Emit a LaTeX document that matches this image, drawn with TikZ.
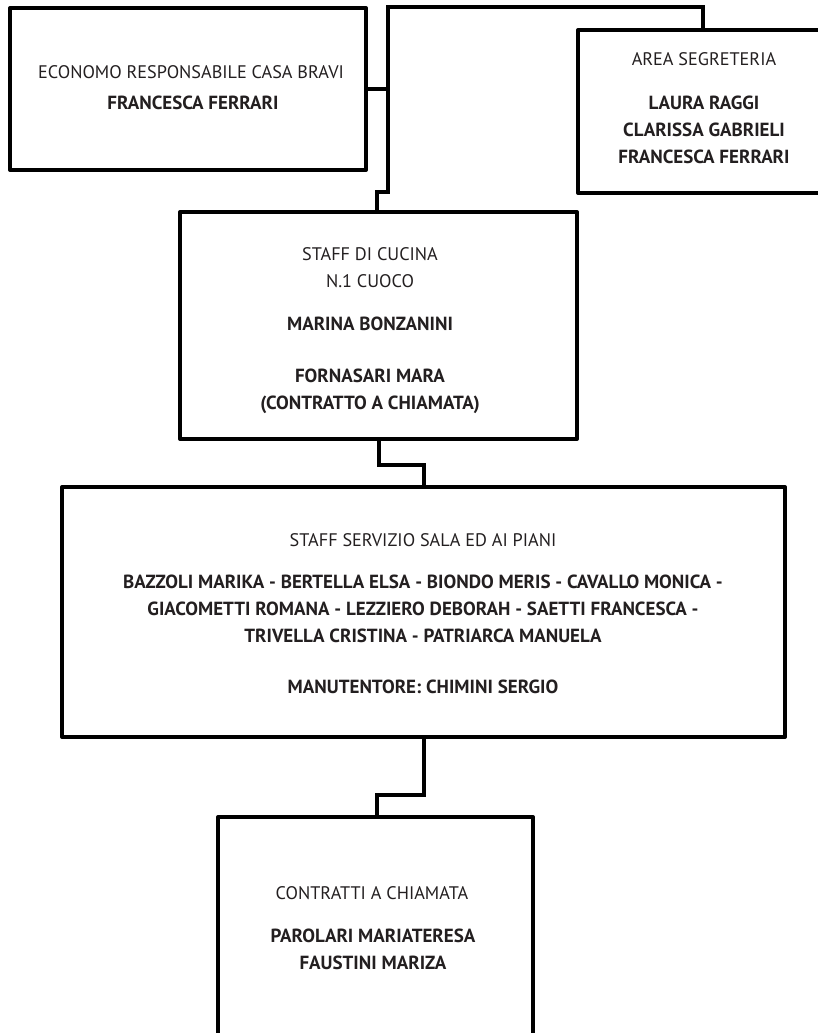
\documentclass[tikz,border=0pt]{standalone}
\usepackage{fontspec}
\setmainfont{PT Sans}
\definecolor{ink}{HTML}{231F20}
\tikzset{
  box/.style={draw=black, line width=4pt, line join=round, inner sep=0pt, outer sep=0pt, rectangle},
  conn/.style={draw=black, line width=4pt},
  lt/.style={font=\fontsize{18.2}{27}\selectfont, text=ink, align=center, inner sep=0pt},
  bt/.style={font=\fontsize{19}{27}\selectfont\bfseries, text=ink, align=center, inner sep=0pt}
}
\begin{document}
\begin{tikzpicture}[x=1pt,y=-1pt]
\useasboundingbox (0,0) rectangle (818,1033);
\clip (0,0) rectangle (818,1033);
% boxes
\node[box, minimum width=356pt, minimum height=162pt] (eco) at (188,89) {};
\node[box, minimum width=262pt, minimum height=163pt] (seg) at (709,111.5) {};
\node[box, minimum width=397pt, minimum height=227pt] (cuc) at (378.5,325.5) {};
\node[box, minimum width=723pt, minimum height=250pt] (sala) at (423.5,612) {};
\node[box, minimum width=315pt, minimum height=233pt] (con) at (375.5,933.5) {};
% texts
\node[lt] (ecoT) at (191,72) {ECONOMO RESPONSABILE CASA BRAVI};
\node[bt] (ecoN) at (193,103) {FRANCESCA FERRARI};
\node[lt] (segT) at (704,59) {AREA SEGRETERIA};
\node[bt] (segN) at (704,129.5) {LAURA RAGGI\\CLARISSA GABRIELI\\FRANCESCA FERRARI};
\node[lt] (cucT) at (370,268) {STAFF DI CUCINA\\N.1 CUOCO};
\node[bt] (cucN) at (370,324) {MARINA BONZANINI};
\node[bt] (cucM) at (370,391.5) {FORNASARI MARA\\(CONTRATTO A CHIAMATA)};
\node[lt] (salaT) at (423,540) {STAFF SERVIZIO SALA ED AI PIANI};
\node[bt] (salaN) at (423,608.5) {BAZZOLI MARIKA - BERTELLA ELSA - BIONDO MERIS - CAVALLO MONICA -\\GIACOMETTI ROMANA - LEZZIERO DEBORAH - SAETTI FRANCESCA -\\TRIVELLA CRISTINA - PATRIARCA MANUELA};
\node[bt] (salaM) at (423,687) {MANUTENTORE: CHIMINI SERGIO};
\node[lt] (conT) at (372,893) {CONTRATTI A CHIAMATA};
\node[bt] (conN) at (373,949.5) {PAROLARI MARIATERESA\\FAUSTINI MARIZA};
% connector corners
\coordinate (ja) at (703,7);
\coordinate (jb) at (388,7);
\coordinate (jc) at (388,192);
\coordinate (jd) at (377,192);
\coordinate (k) at (424,465);
\coordinate (m) at (377,795);
% connectors
\draw[conn] (seg.north -| ja) -- (ja) -- (jb) -- (jc) -- (jd) -- (cuc.north -| jd);
\draw[conn] (eco.east) -- (eco.east -| jb);
\draw[conn] (cuc.south) |- (k) -- (sala.north -| k);
\draw[conn] (sala.south) |- (m) -- (con.north -| m);
\end{tikzpicture}
\end{document}
